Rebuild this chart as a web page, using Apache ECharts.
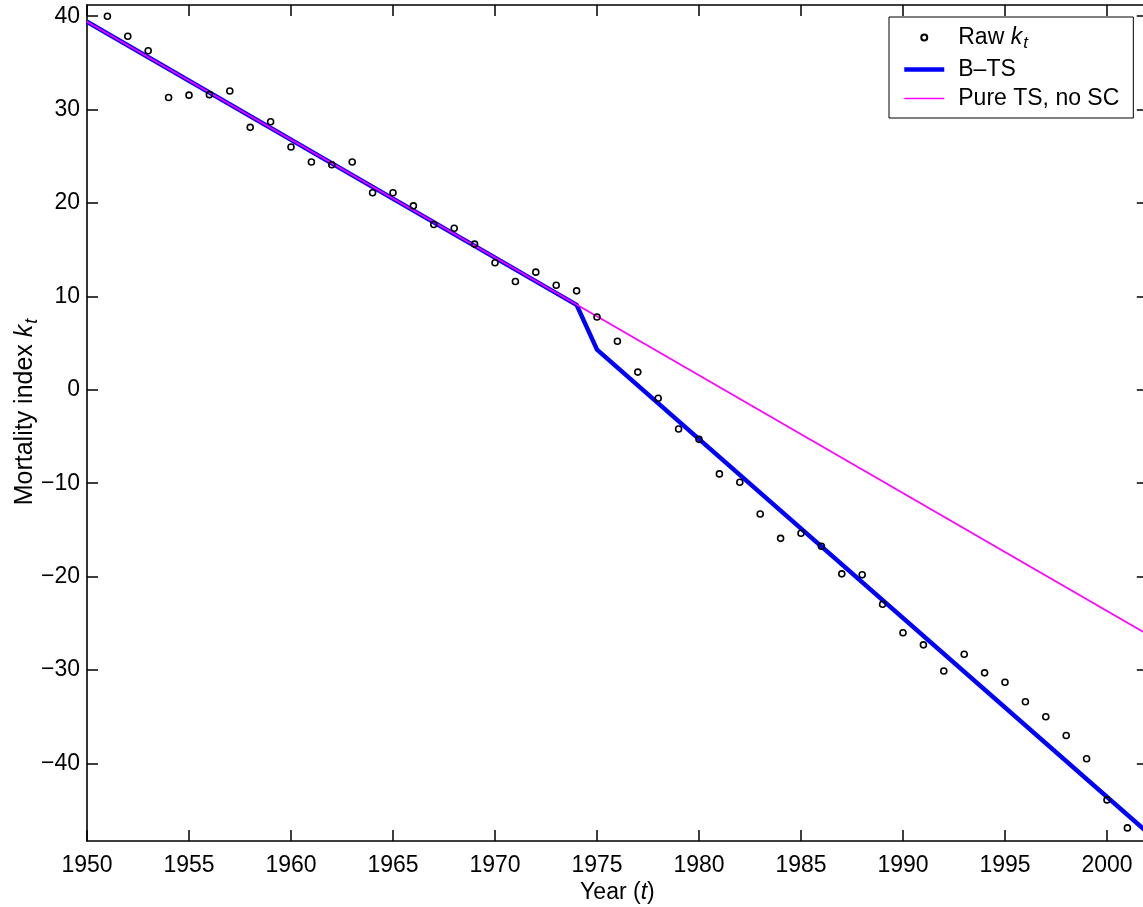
<!DOCTYPE html>
<html><head><meta charset="utf-8">
<script src="https://cdn.jsdelivr.net/npm/echarts@6/dist/echarts.min.js"></script>
<style>html,body{margin:0;padding:0;background:#fff}#c{width:1143px;height:907px}</style>
</head><body><div id="c"></div>
<script>
// ---- data ----
const rawYears = [1951,1952,1953,1954,1955,1956,1957,1958,1959,1960,
  1961,1962,1963,1964,1965,1966,1967,1968,1969,1970,
  1971,1972,1973,1974,1975,1976,1977,1978,1979,1980,
  1981,1982,1983,1984,1985,1986,1987,1988,1989,1990,
  1991,1992,1993,1994,1995,1996,1997,1998,1999,2000,2001];
const rawK = [40.0,37.85,36.3,31.3,31.55,31.6,32.0,28.1,28.7,26.0,
  24.4,24.1,24.4,21.1,21.1,19.7,17.7,17.3,15.6,13.6,
  11.6,12.6,11.2,10.6,7.8,5.2,1.9,-0.9,-4.2,-5.3,
  -9.0,-9.9,-13.3,-15.9,-15.35,-16.75,-19.7,-19.8,-22.95,-26.0,
  -27.3,-30.1,-28.3,-30.3,-31.3,-33.4,-35.0,-37.0,-39.5,-43.9,-46.9];
const btsYears = [1950,1974,1975,2002];
const btsK = [39.4,9.1,4.3,-47.4];
const pureYears = [1950,2002];
const pureK = [39.4,-26.2];
const xTicks = [1950,1955,1960,1965,1970,1975,1980,1985,1990,1995,2000];
const yTicks = [-40,-30,-20,-10,0,10,20,30,40];
const seriesNames = ['Raw k_t','B\u2013TS','Pure TS, no SC'];

// ---- chart ----
const FONT = "'Liberation Sans', Arial, Helvetica, sans-serif";
const FS = 23;
const zip = (xs, ys) => xs.map((x, i) => [x, ys[i]]);
const axisLineStyle = {color: '#000', width: 1.6};
const tickStyle = {color: '#000', width: 1.5};
const xMin = 1950, xMax = 2002, yMin = -48.3, yMax = 41.2;

const richName = {
  n: {fontFamily: FONT, fontSize: FS, color: '#000'},
  i: {fontFamily: FONT, fontSize: FS, fontStyle: 'italic', color: '#000'},
  s: {fontFamily: FONT, fontSize: 17, fontStyle: 'italic', color: '#000', padding: [12, 0, 0, 1]}
};
const richY = {
  n: {fontFamily: FONT, fontSize: 25, color: '#000'},
  i: {fontFamily: FONT, fontSize: 25, fontStyle: 'italic', color: '#000'},
  s: {fontFamily: FONT, fontSize: 18, fontStyle: 'italic', color: '#000', padding: [13, 0, 0, 1]}
};

const chart = echarts.init(document.getElementById('c'), null, {renderer: 'canvas'});
chart.setOption({
  animation: false,
  backgroundColor: '#fff',
  grid: {left: 87, top: 5, width: 1060.8, height: 836, containLabel: false, outerBoundsMode: 'none'},
  legend: {
    show: true,
    orient: 'vertical',
    left: 889, top: 17,
    padding: [9, 14, 8, 13],
    itemWidth: 40, itemHeight: 6, itemGap: 6,
    backgroundColor: '#fff',
    borderColor: '#000', borderWidth: 1,
    data: [
      {name: seriesNames[0]},
      {name: seriesNames[1], itemStyle: {opacity: 0}, lineStyle: {width: 4.5}},
      {name: seriesNames[2], itemStyle: {opacity: 0}, lineStyle: {width: 1.6}}
    ],
    formatter: function (name) {
      if (name === 'Raw k_t') return '{n|Raw }{i|k}{s|t}';
      return '{n|' + name + '}';
    },
    textStyle: {fontFamily: FONT, fontSize: FS, color: '#000', padding: [0, 0, 0, 9], rich: richName}
  },
  xAxis: [{
    type: 'value', min: xMin, max: xMax, position: 'bottom',
    name: '{n|Year (}{i|t}{n|)}', nameLocation: 'middle', nameGap: 40, nameMoveOverlap: false,
    nameTextStyle: {rich: richName},
    axisLine: {show: true, onZero: false, lineStyle: axisLineStyle},
    axisTick: {show: true, inside: true, length: 11, lineStyle: tickStyle, customValues: xTicks},
    axisLabel: {show: true, margin: 13, color: '#000', fontFamily: FONT, fontSize: FS, customValues: xTicks,
      formatter: v => String(v)},
    splitLine: {show: false}
  }, {
    type: 'value', min: xMin, max: xMax, position: 'top',
    axisLine: {show: true, onZero: false, lineStyle: axisLineStyle},
    axisTick: {show: true, inside: true, length: 11, lineStyle: tickStyle, customValues: xTicks},
    axisLabel: {show: false},
    splitLine: {show: false}
  }],
  yAxis: [{
    type: 'value', min: yMin, max: yMax, position: 'left',
    name: '{n|Mortality index }{i|k}{s|t}', nameLocation: 'middle', nameGap: 46, nameRotate: 90,
    nameMoveOverlap: false,
    nameTextStyle: {rich: richY, padding: [0, 0, 0, 22]},
    axisLine: {show: true, onZero: false, lineStyle: axisLineStyle},
    axisTick: {show: true, inside: true, length: 11, lineStyle: tickStyle, customValues: yTicks},
    axisLabel: {show: true, margin: 7, color: '#000', fontFamily: FONT, fontSize: FS, customValues: yTicks,
      formatter: v => (v < 0 ? '\u2212' + Math.abs(v) : String(v))},
    splitLine: {show: false}
  }, {
    type: 'value', min: yMin, max: yMax, position: 'right',
    axisLine: {show: true, onZero: false, lineStyle: axisLineStyle},
    axisTick: {show: true, inside: true, length: 11, lineStyle: tickStyle, customValues: yTicks},
    axisLabel: {show: false},
    splitLine: {show: false}
  }],
  series: [{
    name: seriesNames[1], type: 'line', data: zip(btsYears, btsK),
    symbol: 'none', lineStyle: {color: '#0000ff', width: 4.5}, itemStyle: {color: '#0000ff'},
    z: 2
  }, {
    name: seriesNames[2], type: 'line', data: zip(pureYears, pureK),
    symbol: 'none', lineStyle: {color: '#ff00ff', width: 1.6}, itemStyle: {color: '#ff00ff'},
    z: 3
  }, {
    name: seriesNames[0], type: 'scatter', data: zip(rawYears, rawK),
    symbol: 'circle', symbolSize: 6,
    itemStyle: {color: 'rgba(255,255,255,0)', borderColor: '#000', borderWidth: 1.6, opacity: 1},
    z: 4
  }]
});
</script></body></html>
